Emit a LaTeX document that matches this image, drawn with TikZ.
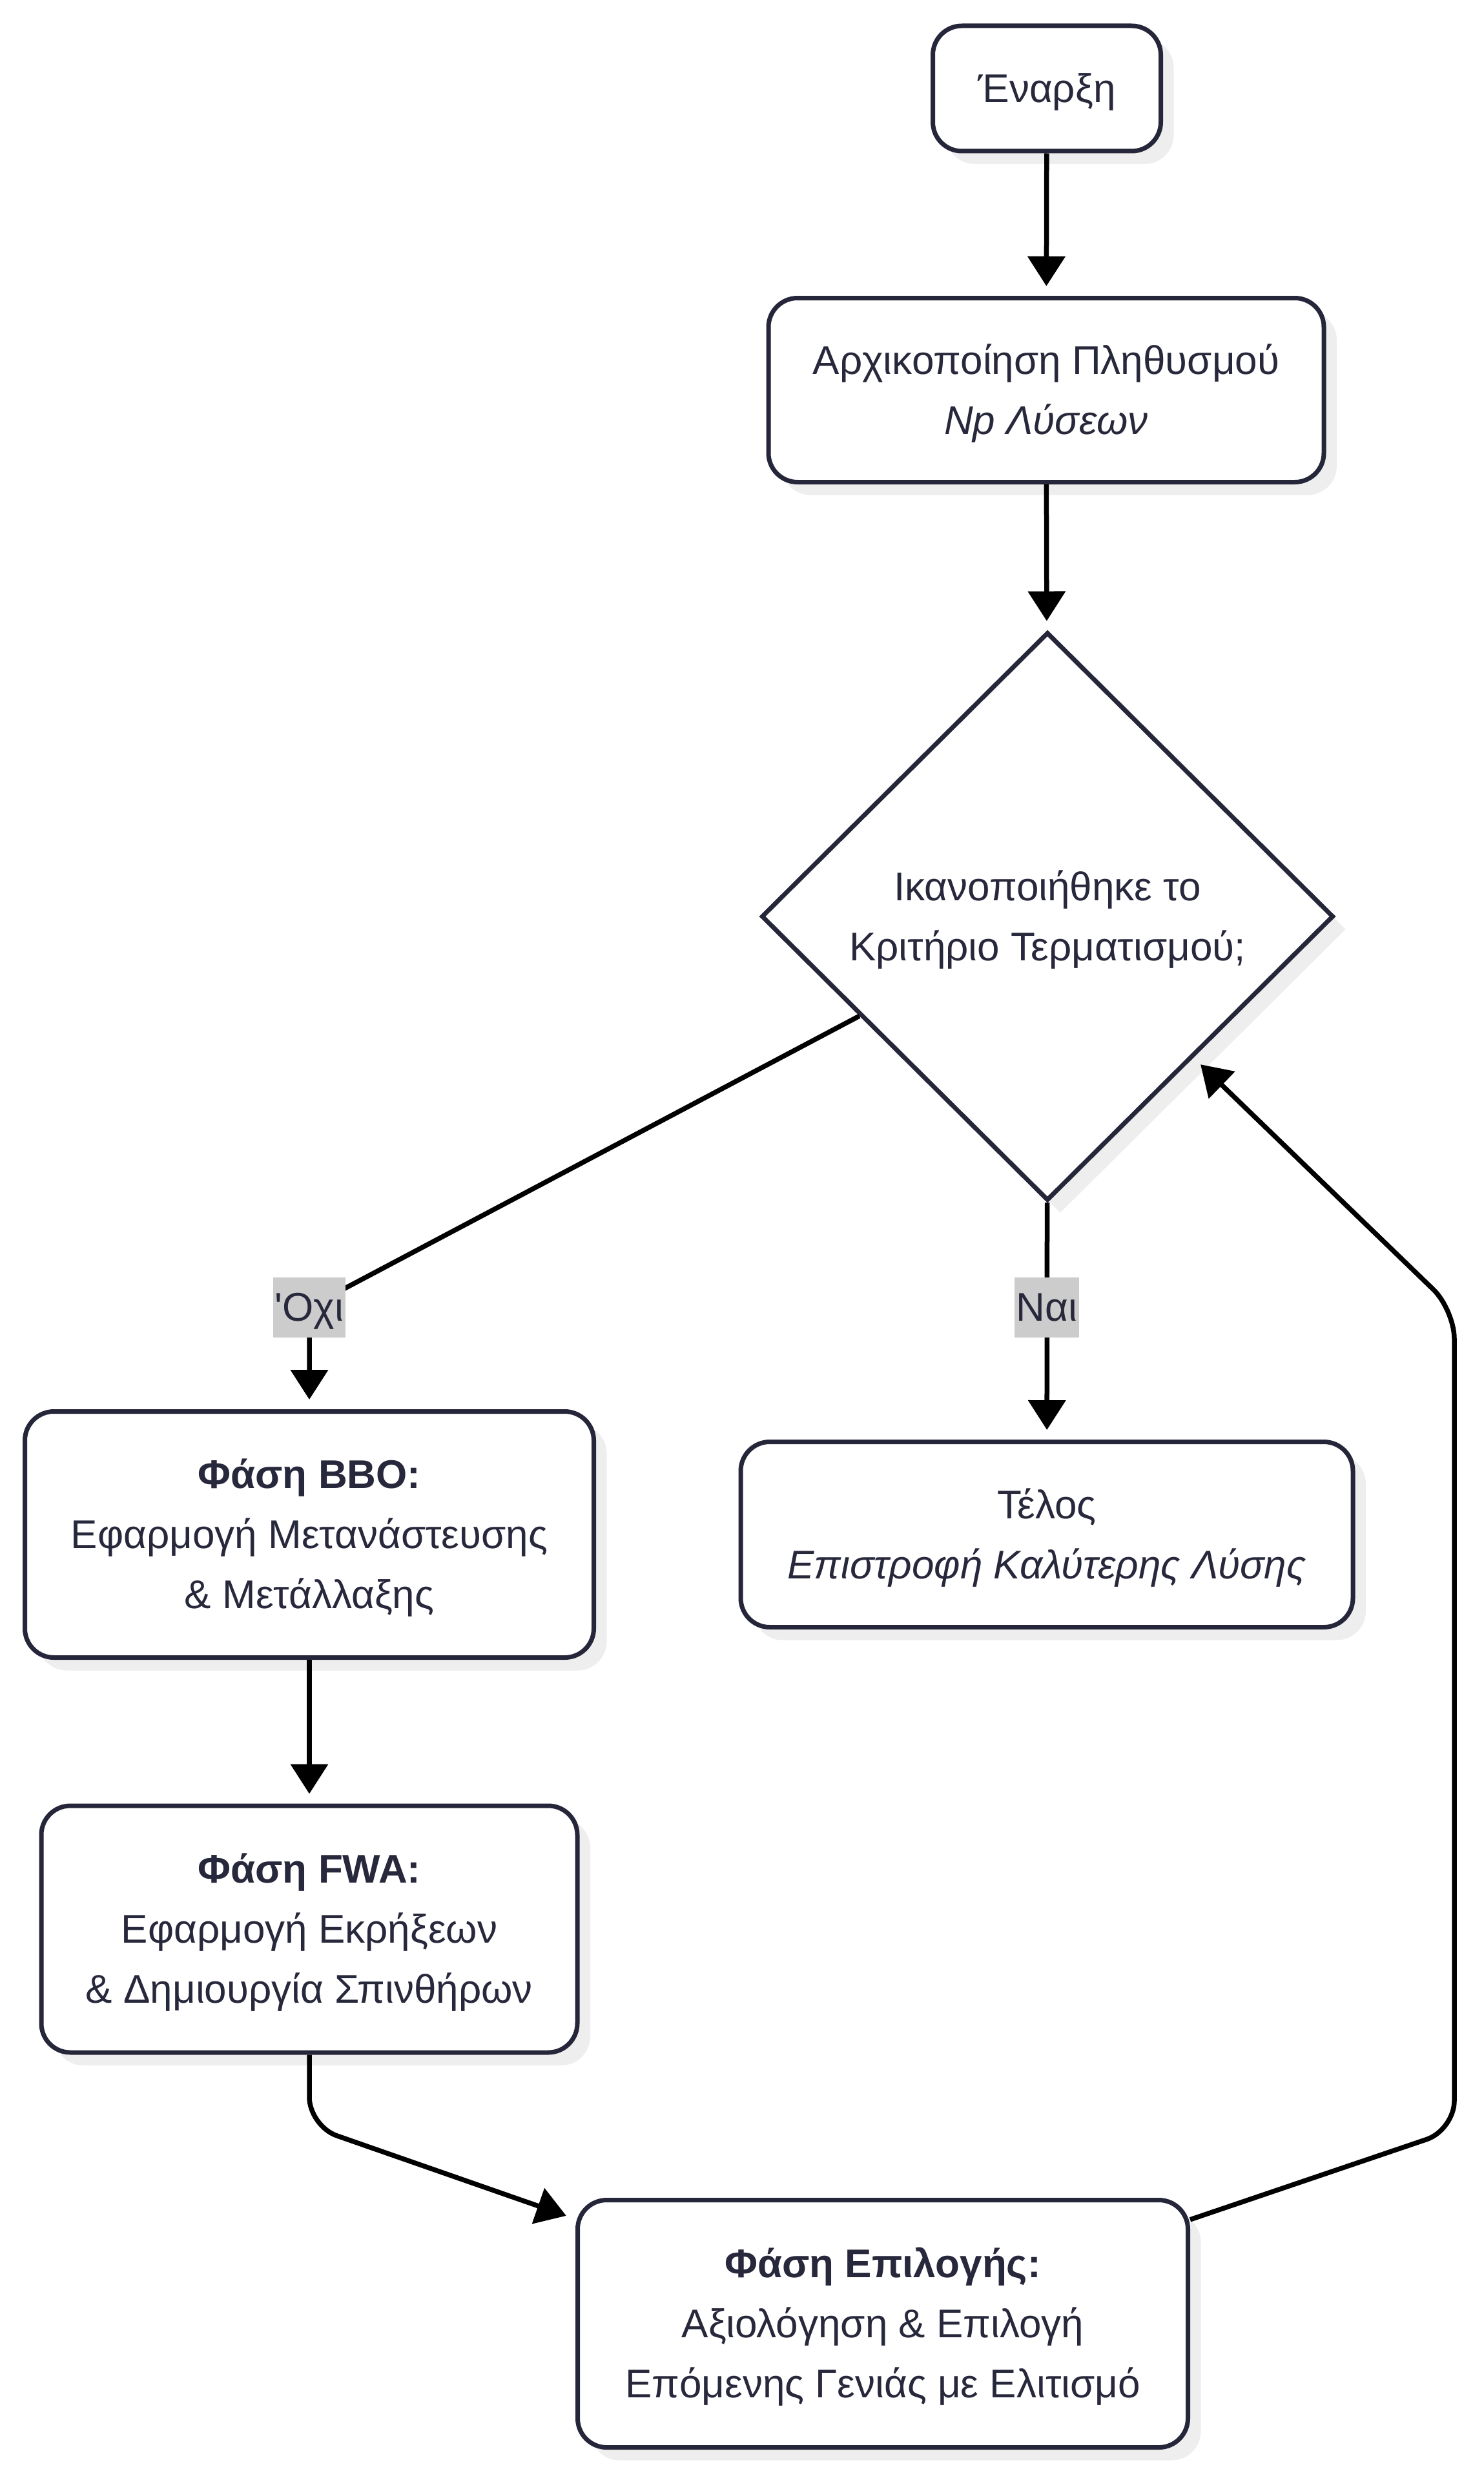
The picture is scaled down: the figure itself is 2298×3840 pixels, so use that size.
\documentclass[tikz,border=0pt]{standalone}
\usepackage{fontspec}
\setmainfont{Liberation Sans}[Ligatures=TeXOff]
\usetikzlibrary{shapes.geometric, arrows.meta, shadows, calc}
\definecolor{ink}{HTML}{28283C}
\definecolor{edgecol}{HTML}{26263A}
\definecolor{shade}{HTML}{EEEEEE}
\definecolor{lblbg}{HTML}{CCCCCC}
\newcommand\lnstrut{\rule[-25pt]{0pt}{93pt}}
\begin{document}
\begin{tikzpicture}[x=1pt, y=-1pt,
  txt/.style={text=ink, align=center, font=\fontsize{62}{93}\selectfont},
  box/.style={txt, draw=edgecol, line width=7pt, rounded corners=45pt, fill=white, inner sep=0pt,
    drop shadow={shadow xshift=20pt, shadow yshift=-20pt, fill=shade, opacity=1}},
  dia/.style={txt, shape=diamond, draw=edgecol, line width=7pt, fill=white, inner sep=0pt,
    drop shadow={shadow xshift=20pt, shadow yshift=-20pt, fill=shade, opacity=1}},
  conn/.style={draw=black, line width=7.5pt, shorten >=15pt, -{Triangle[length=46pt,width=57pt]}},
  lbl/.style={txt, fill=lblbg, inner xsep=3pt, inner ysep=0pt}]
\fill[white] (0,0) rectangle (2298,3840);
\useasboundingbox (0,0) rectangle (2298,3840);

\node[box, minimum width=353pt, minimum height=194pt] (start) at (1621,137) {\lnstrut Έναρξη};
\node[box, minimum width=860pt, minimum height=285pt] (init) at (1620,604)
  {\lnstrut Αρχικοποίηση Πληθυσμού\\\lnstrut\textit{Np Λύσεων}};
\node[dia, minimum width=886pt, minimum height=880pt] (dia) at (1622,1419)
  {\lnstrut Ικανοποιήθηκε το\\\lnstrut Κριτήριο Τερματισμού;};
\node[box, minimum width=881pt, minimum height=381pt] (bbo) at (479,2376)
  {\lnstrut\textbf{Φάση BBO:}\\\lnstrut Εφαρμογή Μετανάστευσης\\\lnstrut\& Μετάλλαξης};
\node[box, minimum width=948pt, minimum height=287pt] (end) at (1621,2376)
  {\lnstrut Τέλος\\\lnstrut\textit{Επιστροφή Καλύτερης Λύσης}};
\node[box, minimum width=830pt, minimum height=382pt] (fwa) at (479,2987)
  {\lnstrut\textbf{Φάση FWA:}\\\lnstrut Εφαρμογή Εκρήξεων\\\lnstrut\& Δημιουργία Σπινθήρων};
\node[box, minimum width=945pt, minimum height=383pt] (sel) at (1367,3598)
  {\lnstrut\textbf{Φάση Επιλογής:}\\\lnstrut Αξιολόγηση \& Επιλογή\\\lnstrut Επόμενης Γενιάς με Ελιτισμό};

\coordinate (noC) at (479,2024);
\coordinate (yesC) at (1621,2024);
\coordinate (fsC) at (479,3292);
\coordinate (sdA) at (2252,3298);
\coordinate (sdB) at (2252,2028);

\draw[conn] (start) -- (init);
\draw[conn] (init) -- (dia);
\draw[conn] (dia) -- (noC) -- (bbo);
\draw[conn] (dia) -- (end);
\draw[conn] (bbo) -- (fwa);
\draw[conn, rounded corners=45pt] (fwa) -- (fsC) -- (sel);
\draw[conn, rounded corners=45pt] (sel) -- (sdA) -- (sdB) -- (dia);

\node[lbl] (noL) at (noC) {\lnstrut'Οχι};
\node[lbl] (yesL) at (yesC) {\lnstrut Ναι};
\end{tikzpicture}
\end{document}
